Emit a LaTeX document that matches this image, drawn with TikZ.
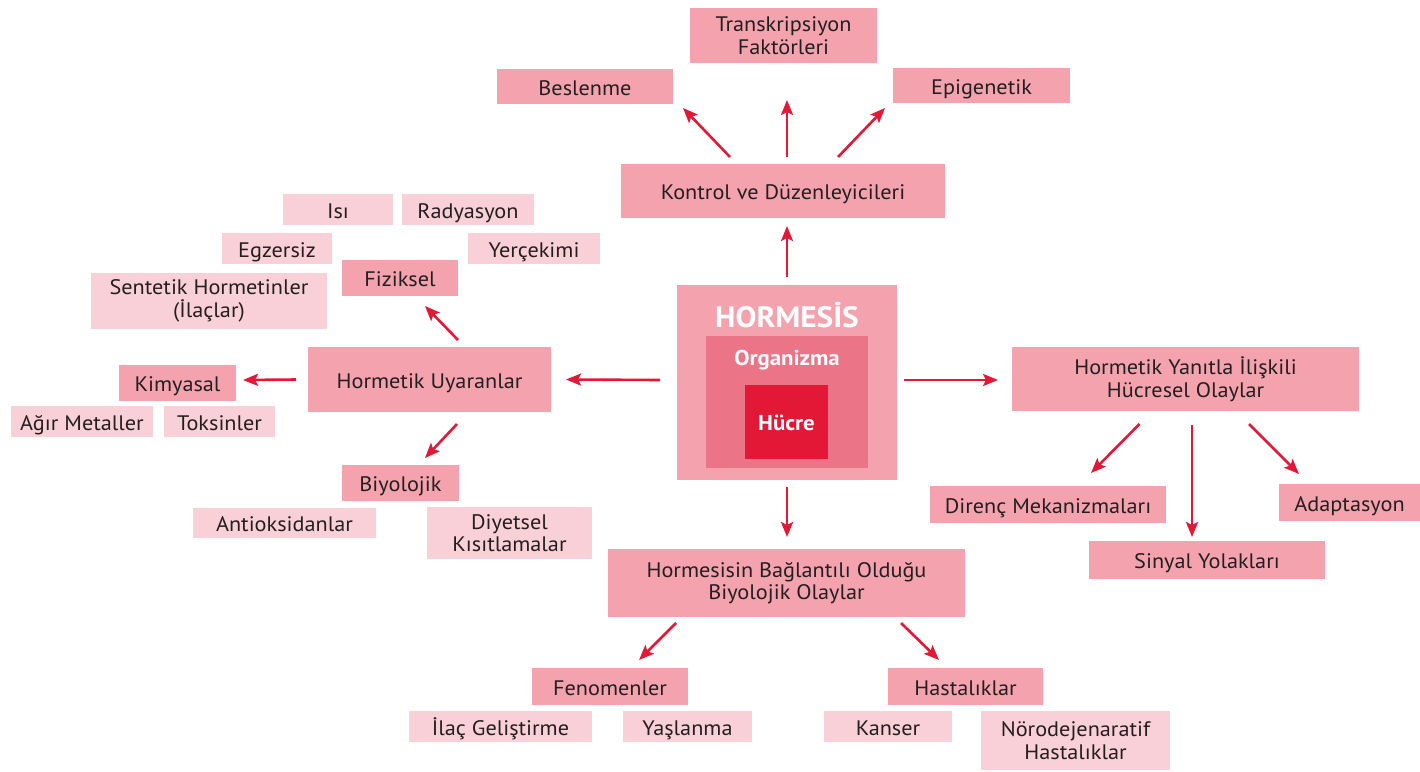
\documentclass[tikz,border=0pt]{standalone}
\usepackage{fontspec}
\setmainfont[FakeStretch=1.06]{PT Sans}
\usetikzlibrary{arrows.meta}
\definecolor{med}{HTML}{F4A3AE}
\definecolor{lig}{HTML}{F9D0D7}
\definecolor{orgc}{HTML}{EC7487}
\definecolor{hred}{HTML}{E31837}
\definecolor{txt}{HTML}{231F20}
\tikzset{
  mbox/.style={inner sep=0pt, outer sep=0pt, align=center, text=txt, font=\fontsize{21}{22.5}\selectfont},
  box/.style={mbox, text height=17.5pt, text depth=0pt},
  medbox/.style={box, fill=med},
  ligbox/.style={box, fill=lig},
  medmbox/.style={mbox, fill=med},
  ligmbox/.style={mbox, fill=lig},
  orgbox/.style={box, fill=orgc},
  hucbox/.style={box, fill=hred, text=white, font=\fontsize{21.5}{23}\selectfont\bfseries},
  wlabel/.style={inner sep=0pt, text=white, font=\bfseries},
  arr/.style={draw=hred, line width=2.6pt, -{Stealth[length=15pt,width=12pt,inset=3pt]}},
}
\newcommand\bx[7]{\node[#6, minimum width={(#4-#2)*1pt}, minimum height={(#5-#3)*1pt}] (#1) at ({(#2+#4)/2},{(#3+#5)/2}) {#7};}
\begin{document}
\begin{tikzpicture}[x=1pt,y=-1pt]
\useasboundingbox (0,0) rectangle (1420,771);
% top
\bx{trans}{690}{8}{877}{63}{medmbox}{Transkripsiyon\\Faktörleri}
\bx{besl}{497}{69}{673}{104}{medbox}{Beslenme}
\bx{epi}{893}{68}{1070}{103}{medbox}{Epigenetik}
\bx{kontrol}{621}{164}{945}{218}{medbox}{Kontrol ve Düzenleyicileri}
% center
\bx{outer}{677}{285}{897}{480}{medbox}{}
\bx{org}{706}{336}{868}{468}{orgbox}{}
\bx{huc}{745}{385}{828}{459}{hucbox}{Hücre}
\node[wlabel, font=\fontsize{29.5}{31}\selectfont\bfseries] (hl) at (787,315) {HORMESİS};
\node[wlabel, font=\fontsize{21.5}{23}\selectfont\bfseries] (ol) at (787,360) {Organizma};
% left
\bx{uyar}{308}{347}{551}{412}{medbox}{Hormetik Uyaranlar}
\bx{fiz}{342}{260}{458}{296}{medbox}{Fiziksel}
\bx{isi}{283}{194}{393}{225}{ligbox}{Isı}
\bx{rad}{402}{194}{534}{225}{ligbox}{Radyasyon}
\bx{egz}{222}{233}{332}{264}{ligbox}{Egzersiz}
\bx{yer}{468}{233}{600}{264}{ligbox}{Yerçekimi}
\bx{sent}{91}{273}{327}{329}{ligmbox}{Sentetik Hormetinler\\(İlaçlar)}
\bx{kim}{119}{365}{236}{401}{medbox}{Kimyasal}
\bx{agir}{11}{406}{153}{437}{ligbox}{Ağır Metaller}
\bx{toks}{164}{406}{275}{437}{ligbox}{Toksinler}
\bx{biyo}{342}{465}{459}{501}{medbox}{Biyolojik}
\bx{anti}{193}{508}{376}{538}{ligbox}{Antioksidanlar}
\bx{diy}{427}{507}{592}{559}{ligmbox}{Diyetsel\\Kısıtlamalar}
% right
\bx{hy}{1012}{347}{1359}{411}{medmbox}{Hormetik Yanıtla İlişkili\\Hücresel Olaylar}
\bx{dir}{930}{486}{1166}{523}{medbox}{Direnç Mekanizmaları}
\bx{adap}{1279}{484}{1420}{521}{medbox}{Adaptasyon}
\bx{sin}{1089}{541}{1325}{579}{medbox}{Sinyal Yolakları}
% bottom
\bx{hb}{608}{549}{965}{617}{medmbox}{Hormesisin Bağlantılı Olduğu\\Biyolojik Olaylar}
\bx{fen}{532}{668}{688}{705}{medbox}{Fenomenler}
\bx{has}{888}{668}{1043}{705}{medbox}{Hastalıklar}
\bx{ilac}{409}{711}{592}{742}{ligbox}{İlaç Geliştirme}
\bx{yas}{623}{711}{752}{742}{ligbox}{Yaşlanma}
\bx{kan}{824}{711}{952}{742}{ligbox}{Kanser}
\bx{nor}{981}{711}{1170}{770}{ligmbox}{Nörodejenaratif\\Hastalıklar}
% arrows
\draw[arr] ([xshift=-53pt,yshift=7pt]kontrol.north) -- ([xshift=10pt,yshift=-4pt]besl.south east);
\draw[arr] ([xshift=4pt,yshift=7pt]kontrol.north) -- ([xshift=3.5pt,yshift=-37pt]trans.south);
\draw[arr] ([xshift=55pt,yshift=7pt]kontrol.north) -- ([xshift=-8pt,yshift=-5pt]epi.south west);
\draw[arr] ([yshift=8pt]outer.north) -- ([xshift=4pt,yshift=-8pt]kontrol.south);
\draw[arr] ([xshift=-17pt,yshift=2.5pt]outer.west) -- ([xshift=15pt]uyar.east);
\draw[arr] ([xshift=28.5pt,yshift=7pt]uyar.north) -- ([xshift=25pt,yshift=-10pt]fiz.south);
\draw[arr] ([xshift=-12pt]uyar.west) -- ([xshift=7pt,yshift=3pt]kim.east);
\draw[arr] ([xshift=27.5pt,yshift=-12pt]uyar.south) -- ([xshift=24.5pt,yshift=7pt]biyo.north);
\draw[arr] ([xshift=7pt,yshift=2.5pt]outer.east) -- ([xshift=-14pt,yshift=-1pt]hy.west);
\draw[arr] ([xshift=-46pt,yshift=-13pt]hy.south) -- ([xshift=43pt,yshift=13pt]dir.north);
\draw[arr] ([xshift=6.5pt,yshift=-14pt]hy.south) -- ([xshift=-15pt,yshift=4pt]sin.north);
\draw[arr] ([xshift=63.5pt,yshift=-13pt]hy.south) -- ([xshift=-50.5pt,yshift=10pt]adap.north);
\draw[arr] ([yshift=-7pt]outer.south) -- ([xshift=0.5pt,yshift=12pt]hb.north);
\draw[arr] ([xshift=-110.5pt,yshift=-6pt]hb.south) -- ([xshift=29pt,yshift=8pt]fen.north);
\draw[arr] ([xshift=114.5pt,yshift=-6pt]hb.south) -- ([xshift=-26.5pt,yshift=8pt]has.north);
\end{tikzpicture}
\end{document}
